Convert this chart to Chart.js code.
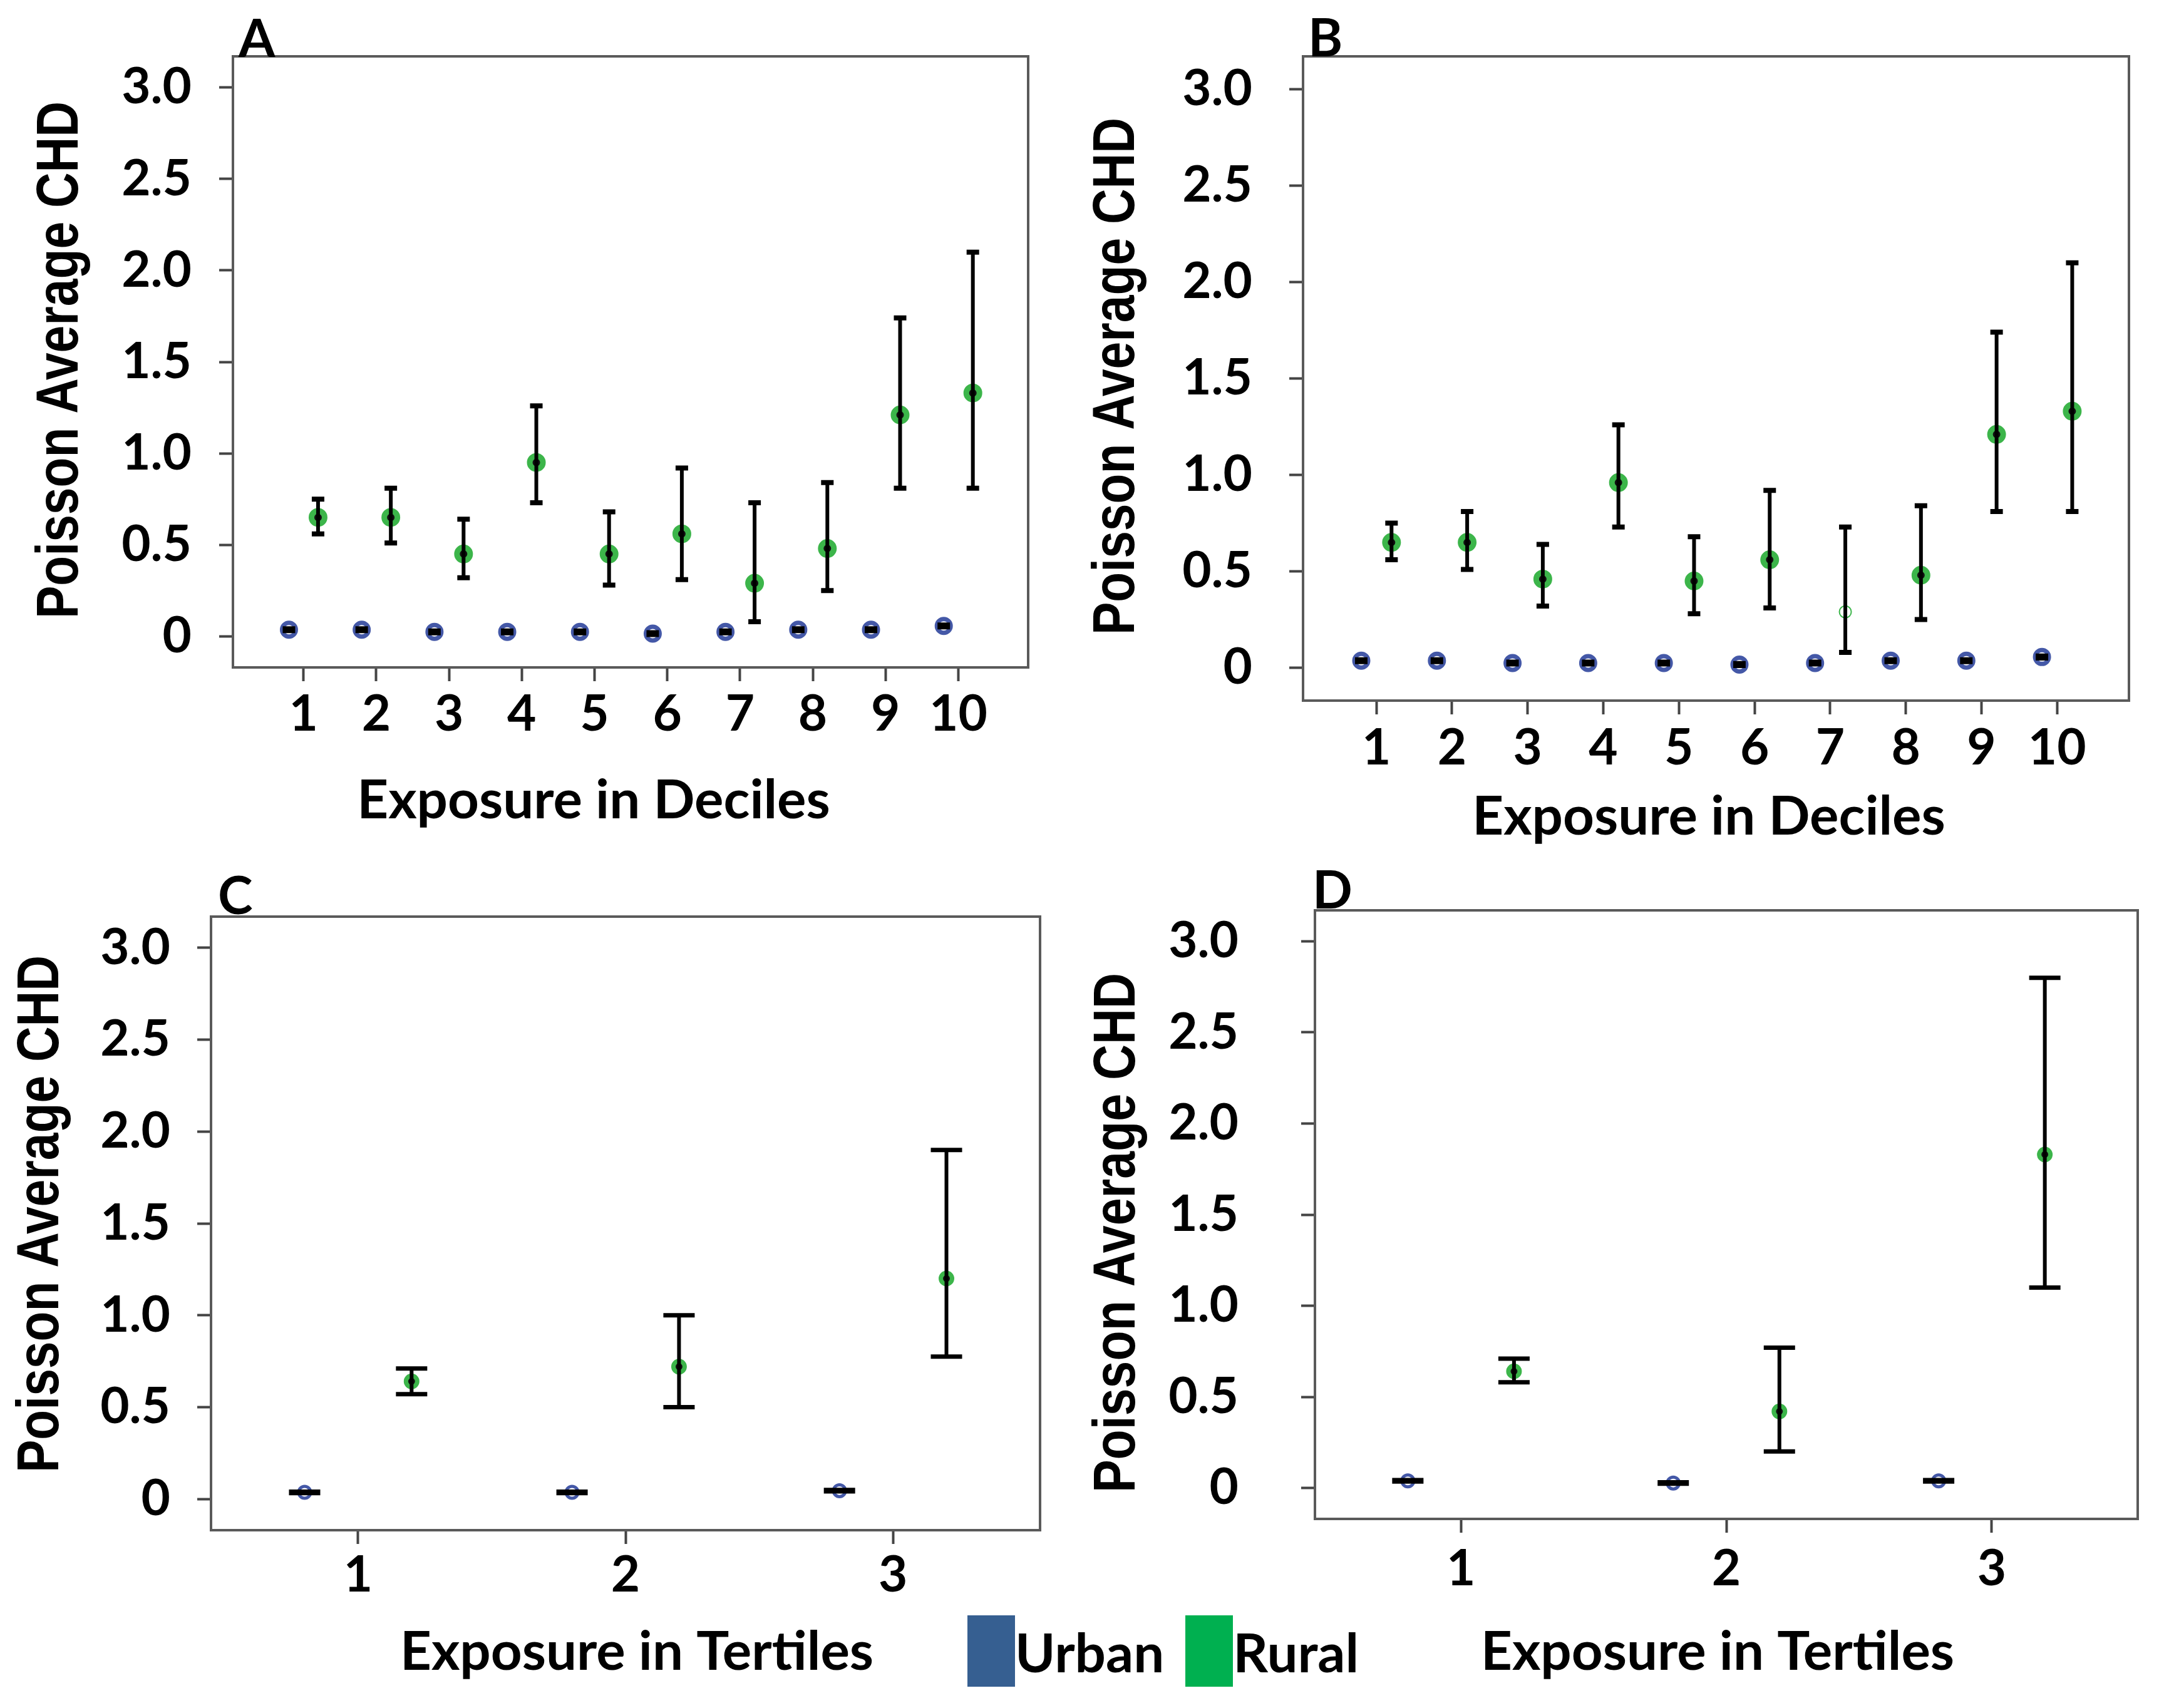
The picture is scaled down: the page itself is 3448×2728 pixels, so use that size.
<!DOCTYPE html>
<html>
<head>
<meta charset="utf-8">
<script src="https://cdn.jsdelivr.net/npm/chart.js@4.4.0/dist/chart.umd.min.js"></script>
<style>
    html, body { margin: 0; padding: 0; background: #fff; }
    #page { position: relative; width: 3448px; height: 2728px; overflow: hidden; background: #fff; }
    .panel { position: absolute; width: 1724px; height: 1364px; }
    .panel canvas { width: 1724px; height: 1364px; }
    #legend { position: absolute; left: 1545px; top: 2580px; display: flex; align-items: center;
              font: bold 87px Lato, sans-serif; color: #000; line-height: 1; z-index: 5; }
    .swatch { width: 76px; height: 114px; }
</style>
</head>
<body>
<div id="page">
    <div class="panel" style="left:0;top:0"><canvas id="panelA" width="1724" height="1364"></canvas></div>
    <div class="panel" style="left:1724px;top:0"><canvas id="panelB" width="1724" height="1364"></canvas></div>
    <div class="panel" style="left:0;top:1364px"><canvas id="panelC" width="1724" height="1364"></canvas></div>
    <div class="panel" style="left:1724px;top:1364px"><canvas id="panelD" width="1724" height="1364"></canvas></div>
    <div id="legend">
        <div class="swatch" style="background:#365f91"></div><span>Urban</span>
        <div class="swatch" style="background:#00b050;margin-left:34px"></div><span>Rural</span>
    </div>
</div>
<script>
// categories and tick labels
const decileCats = [1, 2, 3, 4, 5, 6, 7, 8, 9, 10];
const tertileCats = [1, 2, 3];
const yTickValues = [0, 0.5, 1.0, 1.5, 2.0, 2.5, 3.0];
const yTickLabels = ['0', '0.5', '1.0', '1.5', '2.0', '2.5', '3.0'];

// panel A - deciles
const aRural     = [0.65, 0.65, 0.45, 0.95, 0.45, 0.56, 0.29, 0.48, 1.21, 1.33];
const aRuralLow  = [0.56, 0.51, 0.32, 0.73, 0.28, 0.31, 0.08, 0.25, 0.81, 0.81];
const aRuralHigh = [0.75, 0.81, 0.64, 1.26, 0.68, 0.92, 0.73, 0.84, 1.74, 2.10];
const aUrban     = [0.036, 0.036, 0.024, 0.024, 0.024, 0.015, 0.024, 0.036, 0.036, 0.057];
const aUrbanLow  = [0.031, 0.031, 0.019, 0.019, 0.019, 0.010, 0.019, 0.031, 0.031, 0.052];
const aUrbanHigh = [0.041, 0.041, 0.029, 0.029, 0.029, 0.020, 0.029, 0.041, 0.041, 0.062];

// panel B - deciles
const bRural     = [0.65, 0.65, 0.46, 0.96, 0.45, 0.56, 0.29, 0.48, 1.21, 1.33];
const bRuralLow  = [0.56, 0.51, 0.32, 0.73, 0.28, 0.31, 0.08, 0.25, 0.81, 0.81];
const bRuralHigh = [0.75, 0.81, 0.64, 1.26, 0.68, 0.92, 0.73, 0.84, 1.74, 2.10];
const bUrban     = [0.037, 0.037, 0.025, 0.025, 0.025, 0.017, 0.025, 0.037, 0.037, 0.056];
const bUrbanLow  = [0.032, 0.032, 0.020, 0.020, 0.020, 0.012, 0.020, 0.032, 0.032, 0.051];
const bUrbanHigh = [0.042, 0.042, 0.030, 0.030, 0.030, 0.022, 0.030, 0.042, 0.042, 0.061];

// panel C - tertiles
const cRural     = [0.64, 0.72, 1.20];
const cRuralLow  = [0.57, 0.50, 0.775];
const cRuralHigh = [0.71, 1.00, 1.90];
const cUrban     = [0.036, 0.036, 0.045];
const cUrbanLow  = [0.032, 0.032, 0.041];
const cUrbanHigh = [0.040, 0.040, 0.049];

// panel D - tertiles
const dRural     = [0.64, 0.42, 1.83];
const dRuralLow  = [0.58, 0.20, 1.10];
const dRuralHigh = [0.71, 0.77, 2.80];
const dUrban     = [0.039, 0.027, 0.039];
const dUrbanLow  = [0.035, 0.023, 0.035];
const dUrbanHigh = [0.043, 0.031, 0.043];

const urbanColor = '#4458a7';
const ruralColor = '#3cb54a';
const dodge = 0.2;
const tickLen = 22;
const yTitleText = 'Poisson Average CHD';

const tickFont = { family: 'Lato', weight: 'bold', size: 80 };

// error bars, frame, axis titles and panel letter
const panelDecor = {
    id: 'panelDecor',
    afterDatasetsDraw(chart, args, opts) {
        const { ctx, chartArea: a, scales: { x, y } } = chart;
        ctx.save();
        ctx.strokeStyle = '#000';
        ctx.lineCap = 'butt';
        chart.data.datasets.forEach(ds => {
            ds.data.forEach((pt, i) => {
                const px = x.getPixelForValue(pt.x);
                const lo = y.getPixelForValue(ds.lows[i]);
                const hi = y.getPixelForValue(ds.highs[i]);
                ctx.lineWidth = opts.barWidth;
                ctx.beginPath();
                ctx.moveTo(px, lo);
                ctx.lineTo(px, hi);
                ctx.stroke();
                ctx.lineWidth = opts.capWidth;
                ctx.beginPath();
                ctx.moveTo(px - opts.capHalf, lo);
                ctx.lineTo(px + opts.capHalf, lo);
                ctx.moveTo(px - opts.capHalf, hi);
                ctx.lineTo(px + opts.capHalf, hi);
                ctx.stroke();
            });
        });
        ctx.lineWidth = 4;
        ctx.strokeStyle = '#5a5a5a';
        ctx.strokeRect(a.left, a.top, a.right - a.left, a.bottom - a.top);

        ctx.fillStyle = '#000';
        ctx.font = 'bold 84px Lato';
        ctx.textAlign = 'left';
        ctx.textBaseline = 'alphabetic';
        ctx.fillText(opts.letter, a.left + opts.letterDx, a.top + opts.letterDy);

        // x title
        ctx.font = 'bold 87px Lato';
        ctx.textAlign = 'center';
        ctx.textBaseline = 'middle';
        ctx.fillText(opts.xTitle, opts.xTitleX, opts.xTitleY);

        // y title, squeezed along its length to the reference span
        ctx.font = 'bold 95px "Liberation Sans", Arial, sans-serif';
        const w = ctx.measureText(yTitleText).width;
        ctx.translate(opts.yTitleX, opts.yTitleY);
        ctx.rotate(-Math.PI / 2);
        ctx.scale(opts.yTitleLen / w, 1);
        ctx.fillText(yTitleText, 0, 0);
        ctx.restore();
    }
};

function makePanel(id, p) {
    const W = 1724, H = 1364;
    const box = p.box;
    const xH = 270;
    const gridOpts = { drawOnChartArea: false, drawTicks: true, tickLength: tickLen, tickWidth: 4, tickColor: '#444' };

    const m = p.marker;
    const datasets = [
        {
            label: 'Urban',
            data: p.cats.map((c, i) => ({ x: c - dodge, y: p.urban[i] })),
            lows: p.urbanLow, highs: p.urbanHigh,
            pointBorderColor: urbanColor, pointBackgroundColor: '#fff',
            pointRadius: m.ur, pointBorderWidth: m.uw, showLine: false
        },
        {
            label: 'Rural',
            data: p.cats.map((c, i) => ({ x: c + dodge, y: p.rural[i] })),
            lows: p.ruralLow, highs: p.ruralHigh,
            pointBorderColor: ruralColor,
            pointBackgroundColor: ctx => ctx.dataIndex === p.thin ? '#fff' : '#111',
            pointRadius: ctx => ctx.dataIndex === p.thin ? m.r - 1 : m.r,
            pointBorderWidth: ctx => ctx.dataIndex === p.thin ? 2 : m.w,
            showLine: false
        }
    ];

    return new Chart(document.getElementById(id).getContext('2d'), {
        type: 'scatter',
        data: { datasets },
        plugins: [panelDecor],
        options: {
            responsive: false,
            animation: false,
            devicePixelRatio: 1,
            layout: {
                autoPadding: false,
                padding: { left: 0, top: box.t, right: W - box.r, bottom: H - box.b - xH }
            },
            plugins: {
                legend: { display: false },
                tooltip: { enabled: false },
                panelDecor: p.decor
            },
            scales: {
                x: {
                    type: 'linear', min: p.xMin, max: p.xMax,
                    afterBuildTicks: s => { s.ticks = p.cats.map(v => ({ value: v })); },
                    ticks: {
                        callback: (v, i) => String(p.cats[i]),
                        font: tickFont, color: '#000', maxRotation: 0, autoSkip: false,
                        padding: p.xTickY - box.b - tickLen - tickFont.size * 0.6
                    },
                    grid: gridOpts,
                    border: { display: false },
                    afterFit: s => { s.height = xH; s.paddingLeft = 0; s.paddingRight = 0; }
                },
                y: {
                    type: 'linear', min: -0.17, max: 3.17,
                    afterBuildTicks: s => { s.ticks = yTickValues.map(v => ({ value: v })); },
                    ticks: {
                        callback: (v, i) => yTickLabels[i],
                        font: tickFont, color: '#000', autoSkip: false,
                        padding: box.l - tickLen - p.yTickRight
                    },
                    grid: gridOpts,
                    border: { display: false },
                    afterFit: s => { s.width = box.l; s.paddingTop = 0; s.paddingBottom = 0; }
                }
            }
        }
    });
}

const decileMarker = { r: 10.5, w: 9, ur: 11, uw: 7 };
const tertileMarker = { r: 9, w: 7, ur: 9.5, uw: 5 };
const decileBars = { barWidth: 6, capWidth: 8, capHalf: 10 };
const tertileBars = { barWidth: 6, capWidth: 7, capHalf: 25 };

makePanel('panelA', {
    cats: decileCats, xMin: 0.03, xMax: 10.96,
    urban: aUrban, urbanLow: aUrbanLow, urbanHigh: aUrbanHigh,
    rural: aRural, ruralLow: aRuralLow, ruralHigh: aRuralHigh,
    box: { l: 372, t: 90, r: 1642, b: 1066 },
    yTickRight: 306, xTickY: 1141,
    marker: decileMarker, thin: -1,
    decor: Object.assign({
        letter: 'A', letterDx: 9, letterDy: 1,
        xTitle: 'Exposure in Deciles', xTitleX: 948, xTitleY: 1279,
        yTitleX: 98, yTitleY: 575, yTitleLen: 826
    }, decileBars)
});

makePanel('panelB', {
    cats: decileCats, xMin: 0.03, xMax: 10.95,
    urban: bUrban, urbanLow: bUrbanLow, urbanHigh: bUrbanHigh,
    rural: bRural, ruralLow: bRuralLow, ruralHigh: bRuralHigh,
    box: { l: 357, t: 90, r: 1676, b: 1119 },
    yTickRight: 276, xTickY: 1195,
    marker: decileMarker, thin: 6,
    decor: Object.assign({
        letter: 'B', letterDx: 8, letterDy: 0,
        xTitle: 'Exposure in Deciles', xTitleX: 1005, xTitleY: 1305,
        yTitleX: 61, yTitleY: 601, yTitleLen: 826
    }, decileBars)
});

makePanel('panelC', {
    cats: tertileCats, xMin: 0.45, xMax: 3.55,
    urban: cUrban, urbanLow: cUrbanLow, urbanHigh: cUrbanHigh,
    rural: cRural, ruralLow: cRuralLow, ruralHigh: cRuralHigh,
    box: { l: 337, t: 100, r: 1661, b: 1080 },
    yTickRight: 272, xTickY: 1152,
    marker: tertileMarker, thin: -1,
    decor: Object.assign({
        letter: 'C', letterDx: 11, letterDy: -4,
        xTitle: 'Exposure in Tertiles', xTitleX: 1017, xTitleY: 1275,
        yTitleX: 67, yTitleY: 575, yTitleLen: 826
    }, tertileBars)
});

makePanel('panelD', {
    cats: tertileCats, xMin: 0.45, xMax: 3.55,
    urban: dUrban, urbanLow: dUrbanLow, urbanHigh: dUrbanHigh,
    rural: dRural, ruralLow: dRuralLow, ruralHigh: dRuralHigh,
    box: { l: 376, t: 90, r: 1690, b: 1062 },
    yTickRight: 254, xTickY: 1142,
    marker: tertileMarker, thin: -1,
    decor: Object.assign({
        letter: 'D', letterDx: -4, letterDy: -3,
        xTitle: 'Exposure in Tertiles', xTitleX: 1019, xTitleY: 1275,
        yTitleX: 62, yTitleY: 605, yTitleLen: 830
    }, tertileBars)
});
</script>
</body>
</html>
